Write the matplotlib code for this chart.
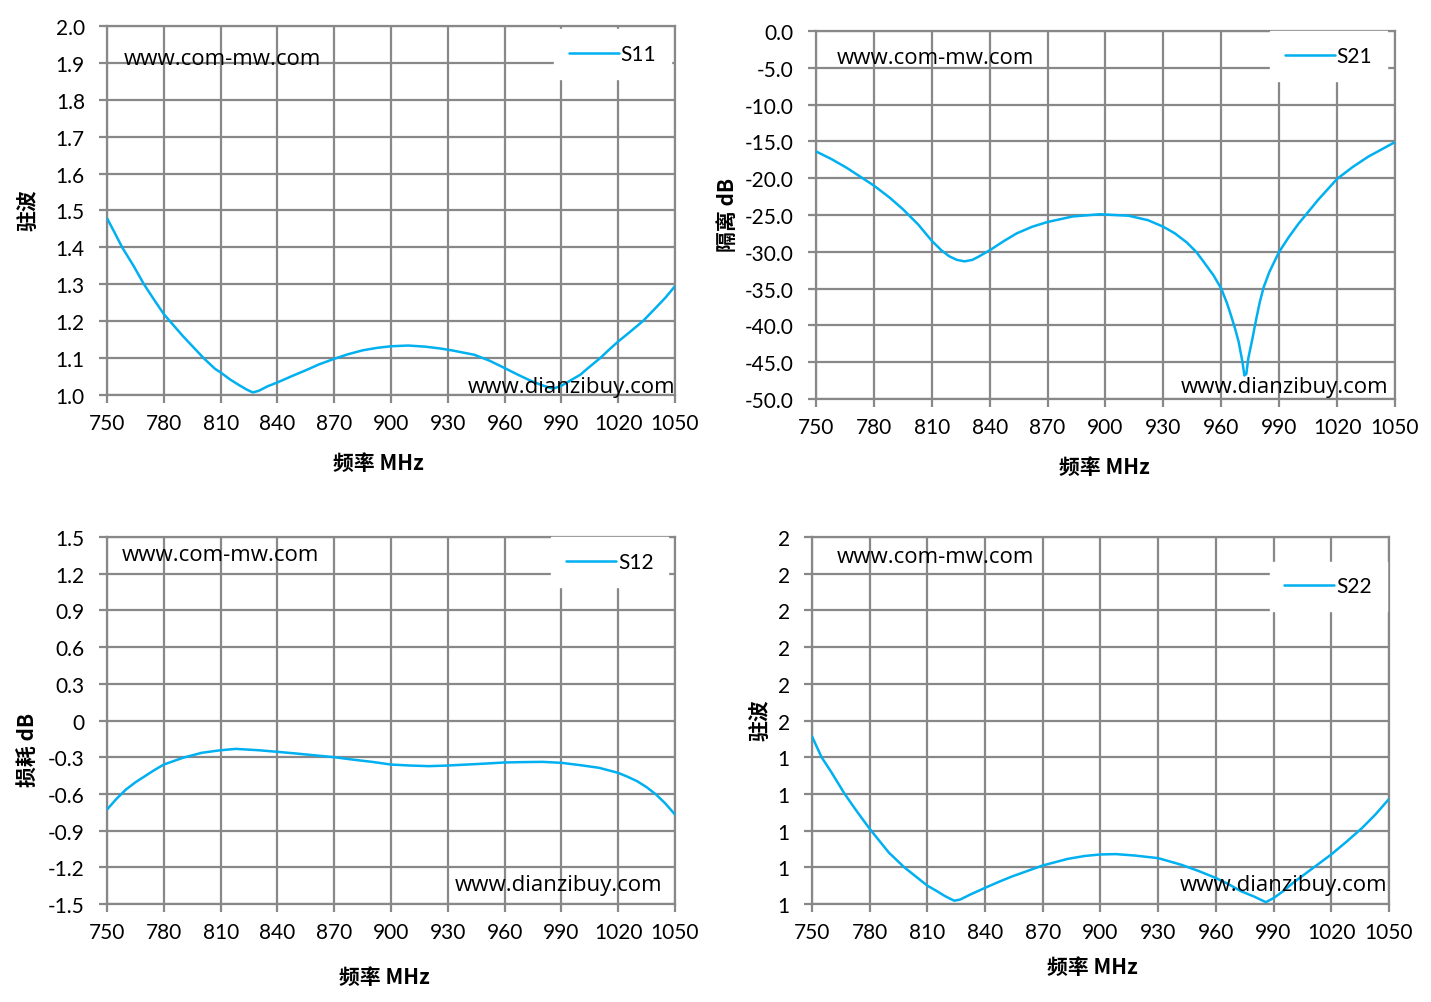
import matplotlib
matplotlib.use("Agg")
import matplotlib.pyplot as plt

plt.rcParams['font.family'] = ['Lato', 'DejaVu Sans']

# frequency ticks (MHz)
freq_ticks = [750, 780, 810, 840, 870, 900, 930, 960, 990, 1020, 1050]

# S11 - VSWR
s11_f = [750, 754, 758, 764, 769.5, 775, 780, 790, 801, 807, 810, 815, 820, 824, 827,
         830, 835, 840, 848, 855, 862, 870, 877, 885, 893, 900, 909, 918, 926, 932,
         944, 952, 960, 967, 974, 980, 985.6, 990, 995, 1000, 1005, 1010.5, 1015, 1020,
         1026, 1033, 1040, 1045, 1050]
s11_v = [1.479, 1.44, 1.40, 1.35, 1.30, 1.257, 1.219, 1.16, 1.10, 1.071, 1.061, 1.042,
         1.026, 1.014, 1.007, 1.011, 1.024, 1.034, 1.052, 1.067, 1.083, 1.098, 1.11,
         1.121, 1.128, 1.132, 1.134, 1.131, 1.126, 1.121, 1.109, 1.093, 1.073, 1.055,
         1.038, 1.026, 1.017, 1.025, 1.04, 1.055, 1.077, 1.10, 1.122, 1.145, 1.17,
         1.20, 1.237, 1.264, 1.295]

# S21 - isolation dB
s21_f = [750, 758, 766, 773, 780, 788, 795, 803, 810, 815, 819, 823, 827, 831, 834,
         840, 847, 854, 862, 870, 883, 897, 912, 922, 930, 936, 942, 947, 951, 956,
         960, 963, 965, 967, 969, 971, 972, 973, 974, 976, 978, 980, 982, 985, 990,
         995, 1000, 1010, 1020, 1028, 1036, 1043, 1050]
s21_v = [-16.36, -17.4, -18.6, -19.8, -21.0, -22.6, -24.2, -26.3, -28.5, -29.8, -30.6,
         -31.1, -31.3, -31.1, -30.7, -29.8, -28.6, -27.5, -26.6, -25.95, -25.2, -24.9,
         -25.1, -25.7, -26.6, -27.5, -28.7, -30.0, -31.4, -33.2, -35.0, -37.0, -38.6,
         -40.3, -42.2, -45.0, -46.8, -46.6, -44.5, -42.0, -39.3, -36.8, -34.8, -32.7,
         -30.0, -28.0, -26.2, -23.0, -20.1, -18.5, -17.1, -16.1, -15.1]

# S12 - insertion loss dB
s12_f = [750, 755, 760, 765, 770, 775, 780, 790, 800, 810, 818, 830, 840, 850, 860,
         870, 880, 890, 900, 910, 920, 930, 940, 950, 960, 970, 980, 990, 1000, 1010,
         1020, 1025, 1030, 1035, 1040, 1045, 1050]
s12_v = [-0.728, -0.64, -0.564, -0.505, -0.455, -0.405, -0.36, -0.305, -0.264, -0.243,
         -0.232, -0.243, -0.256, -0.27, -0.285, -0.30, -0.32, -0.338, -0.36, -0.368,
         -0.373, -0.368, -0.36, -0.352, -0.343, -0.34, -0.338, -0.346, -0.365, -0.387,
         -0.428, -0.46, -0.496, -0.545, -0.605, -0.68, -0.769]

# S22 - VSWR
s22_f = [750, 755, 760, 767, 773, 780, 790, 798, 804, 810, 815, 819, 822, 824,
         827, 832, 840, 847, 854, 862, 870, 883, 892, 900, 908, 918, 930, 942, 951,
         960, 967, 973, 980, 986, 990, 995, 1000, 1010, 1020, 1028, 1036, 1043, 1050]
s22_v = [1.457, 1.40, 1.36, 1.30, 1.255, 1.205, 1.14, 1.10, 1.075, 1.05, 1.035, 1.022,
         1.014, 1.009, 1.012, 1.025, 1.044, 1.06, 1.075, 1.09, 1.105, 1.123, 1.131,
         1.135, 1.136, 1.132, 1.125, 1.107, 1.09, 1.071, 1.053, 1.035, 1.02, 1.005,
         1.016, 1.035, 1.057, 1.096, 1.135, 1.170, 1.207, 1.244, 1.286]

s11_ticks = [1.0, 1.1, 1.2, 1.3, 1.4, 1.5, 1.6, 1.7, 1.8, 1.9, 2.0]
s11_labels = ['1.0', '1.1', '1.2', '1.3', '1.4', '1.5', '1.6', '1.7', '1.8', '1.9', '2.0']
s21_ticks = [-50, -45, -40, -35, -30, -25, -20, -15, -10, -5, 0]
s21_labels = ['-50.0', '-45.0', '-40.0', '-35.0', '-30.0', '-25.0', '-20.0', '-15.0',
              '-10.0', '-5.0', '0.0']
s12_ticks = [-1.5, -1.2, -0.9, -0.6, -0.3, 0, 0.3, 0.6, 0.9, 1.2, 1.5]
s12_labels = ['-1.5', '-1.2', '-0.9', '-0.6', '-0.3', '0', '0.3', '0.6', '0.9', '1.2', '1.5']
s22_ticks = [1.0, 1.1, 1.2, 1.3, 1.4, 1.5, 1.6, 1.7, 1.8, 1.9, 2.0]
s22_labels = ['1', '1', '1', '1', '1', '2', '2', '2', '2', '2', '2']

LINE = '#00B0F0'
GRID = '#888888'
CJK = ['Noto Sans CJK SC', 'DejaVu Sans']
WM = ['Open Sans', 'DejaVu Sans']

fig = plt.figure(figsize=(14.31, 10.03), dpi=100)


def panel(rect, f, v, name, yt, yl, leg_xy, wm1, wm2):
    ax = fig.add_axes(rect)
    ax.plot(f, v, color=LINE, lw=1.8, label=name, zorder=3,
            solid_joinstyle='round', solid_capstyle='round')
    ax.set_xlim(750, 1050)
    ax.set_ylim(yt[0], yt[-1])
    ax.set_xticks(freq_ticks)
    ax.set_yticks(yt)
    ax.set_yticklabels(yl)
    ax.grid(True, color=GRID, lw=1.6)
    for s in ax.spines.values():
        s.set_color(GRID)
        s.set_linewidth(1.6)
    ax.tick_params(colors=GRID, labelcolor='black', labelsize=15, length=6,
                   width=1.6, direction='out')
    ax.tick_params(axis='x', pad=7)
    ax.tick_params(axis='y', pad=10)
    leg = ax.legend(loc='center', bbox_to_anchor=leg_xy, fontsize=15,
                    handlelength=2.4, handletextpad=0.1, fancybox=False,
                    framealpha=1, edgecolor='white', borderpad=0.7)
    leg.set_zorder(4)
    ax.text(wm1[0], wm1[1], 'www.com-mw.com', transform=ax.transAxes,
            ha='left', va='center', fontsize=16, family=WM, zorder=5)
    ax.text(wm2[0], wm2[1], 'www.dianzibuy.com', transform=ax.transAxes,
            ha='right', va='center', fontsize=16, family=WM, zorder=5)
    return ax


panel([0.0748, 0.6052, 0.3969, 0.3679], s11_f, s11_v, 'S11', s11_ticks, s11_labels,
      (0.89, 0.924), (0.03, 0.913), (1.0, 0.022))
panel([0.5702, 0.6012, 0.4046, 0.3669], s21_f, s21_v, 'S21', s21_ticks, s21_labels,
      (0.885, 0.932), (0.036, 0.927), (0.988, 0.033))
panel([0.0748, 0.0977, 0.3969, 0.3659], s12_f, s12_v, 'S12', s12_ticks, s12_labels,
      (0.885, 0.932), (0.026, 0.951), (0.977, 0.052))
panel([0.5674, 0.0977, 0.4032, 0.3659], s22_f, s22_v, 'S22', s22_ticks, s22_labels,
      (0.895, 0.866), (0.043, 0.948), (0.998, 0.052))

W, H = 1431.0, 1003.0


def ftext(x, y, s, rot=0):
    fig.text(x / W, 1 - y / H, s, rotation=rot, ha='center', va='center',
             fontsize=15, fontweight='bold', family=CJK)


ftext(28, 210, '驻波', 90)
ftext(727, 215, '隔离 dB', 90)
ftext(28, 750, '损耗 dB', 90)
ftext(760, 720, '驻波', 90)
ftext(378, 464, '频率 MHz')
ftext(1104, 468, '频率 MHz')
ftext(384, 978, '频率 MHz')
ftext(1092, 968, '频率 MHz')

fig.savefig('out.png', dpi=100)
